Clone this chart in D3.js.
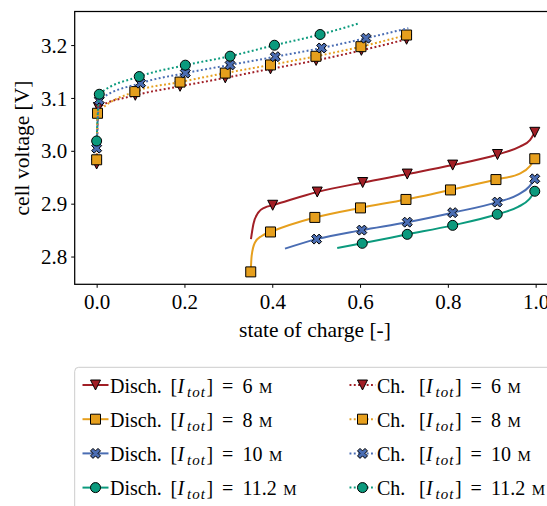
<!DOCTYPE html>
<html>
<head>
<meta charset="utf-8">
<script src="https://cdn.jsdelivr.net/npm/d3@7"></script>
<style>
  body { margin: 0; background: #fff; }
  text { font-family: "Liberation Serif", "DejaVu Serif", serif; fill: #000; white-space: pre; }
</style>
</head>
<body>
<div id="chart"></div>
<script>
const socTicks = [0.0, 0.2, 0.4, 0.6, 0.8, 1.0];
const voltTicks = [2.8, 2.9, 3.0, 3.1, 3.2];
const currents = ["6", "8", "10", "11.2"];
const colors = ["#a11f26", "#e69f1d", "#4a6db3", "#0b9a7d"];
const shapes = ["tri", "square", "x", "circle"];

// discharge, [soc, voltage] at the markers and extra points along the curve
const dis6Marks = [[0.401, 2.897], [0.5025, 2.922], [0.606, 2.94], [0.7075, 2.956], [0.811, 2.973], [0.913, 2.993], [0.998, 3.035]];
const dis6Extra = [[0.3515, 2.833], [0.357, 2.861], [0.368, 2.883], [0.383, 2.8927], [0.964, 3.008], [0.987, 3.02]];
const dis8Marks = [[0.351, 2.771], [0.396, 2.8465], [0.497, 2.874], [0.601, 2.892], [0.7046, 2.908], [0.806, 2.926], [0.9096, 2.9456], [0.998, 2.985]];
const dis8Extra = [[0.353, 2.801], [0.3606, 2.8265], [0.376, 2.839], [0.964, 2.957], [0.987, 2.971]];
const dis10Marks = [[0.501, 2.833], [0.604, 2.85], [0.7075, 2.865], [0.811, 2.883], [0.9125, 2.903], [0.998, 2.947]];
const dis10Extra = [[0.429, 2.815], [0.96, 2.917], [0.985, 2.932]];
const dis11Marks = [[0.605, 2.825], [0.7075, 2.842], [0.811, 2.859], [0.9125, 2.88], [0.998, 2.9235]];
const dis11Extra = [[0.548, 2.816], [0.96, 2.894], [0.985, 2.908]];

// charge
const ch6Marks = [[0, 2.975], [0.004, 3.082], [0.088, 3.105], [0.19, 3.122], [0.293, 3.138], [0.396, 3.155], [0.5, 3.171], [0.603, 3.19], [0.706, 3.211]];
const ch6Extra = [];
const ch8Marks = [[0, 2.983], [0.002, 3.071], [0.087, 3.112], [0.19, 3.13], [0.293, 3.147], [0.396, 3.1624], [0.4995, 3.1788], [0.602, 3.197], [0.706, 3.219]];
const ch8Extra = [];
const ch10Marks = [[0, 3.005], [0.006, 3.0956], [0.1, 3.128], [0.202, 3.147], [0.304, 3.1624], [0.407, 3.178], [0.5125, 3.1945], [0.6135, 3.213]];
const ch10Extra = [[0.71, 3.232]];
const ch11Marks = [[0, 3.0186], [0.006, 3.107], [0.097, 3.1405], [0.202, 3.162], [0.304, 3.179], [0.405, 3.1997], [0.509, 3.22]];
const ch11Extra = [[0.5975, 3.241]];

const disMarks = [dis6Marks, dis8Marks, dis10Marks, dis11Marks];
const disExtra = [dis6Extra, dis8Extra, dis10Extra, dis11Extra];
const chMarks = [ch6Marks, ch8Marks, ch10Marks, ch11Marks];
const chExtra = [ch6Extra, ch8Extra, ch10Extra, ch11Extra];

const W = 547, H = 506;
const ms = 10;
const dots = "1.9,2.4";

const svg = d3.select("#chart").append("svg")
    .attr("width", W)
    .attr("height", H)
    .style("display", "block");

svg.append("rect").attr("width", W).attr("height", H).attr("fill", "#fff");

const x = d3.scaleLinear().domain([-0.05, 1.05]).range([74.7, 557.6]);
const y = d3.scaleLinear().domain([2.7475, 3.2635]).range([284.3, 11.5]);

const line = d3.line()
    .x(function (d) { return x(d[0]); })
    .y(function (d) { return y(d[1]); })
    .curve(d3.curveMonotoneX);

// marker shapes, close to matplotlib's v, s, X, o
function markerPath(shape) {
    const s = ms / 2;
    if (shape === "tri") return `M${-s},${-s}L${s},${-s}L0,${s}Z`;
    if (shape === "square") return `M${-s},${-s}H${s}V${s}H${-s}Z`;
    if (shape === "x") {
        const p = [[-1, -2], [0, -1], [1, -2], [2, -1], [1, 0], [2, 1], [1, 2], [0, 1], [-1, 2], [-2, 1], [-1, 0], [-2, -1]];
        return "M" + p.map(function (q) { return (q[0] * ms / 4) + "," + (q[1] * ms / 4); }).join("L") + "Z";
    }
    return d3.arc()({ innerRadius: 0, outerRadius: s, startAngle: 0, endAngle: 2 * Math.PI });
}

function drawSeries(g, marks, extra, i, dotted) {
    const pts = marks.concat(extra).sort(function (a, b) { return a[0] - b[0]; });
    g.append("path")
        .datum(pts)
        .attr("d", line)
        .attr("fill", "none")
        .attr("stroke", colors[i])
        .attr("stroke-width", 2)
        .attr("stroke-dasharray", dotted ? dots : null);
    g.selectAll("path.mk")
        .data(marks)
        .enter().append("path")
        .attr("class", "mk")
        .attr("d", markerPath(shapes[i]))
        .attr("transform", function (d) { return `translate(${x(d[0])},${y(d[1])})`; })
        .attr("fill", colors[i])
        .attr("stroke", "#000")
        .attr("stroke-width", 1);
}

const plot = svg.append("g");
disMarks.forEach(function (m, i) { drawSeries(plot.append("g"), m, disExtra[i], i, false); });
chMarks.forEach(function (m, i) { drawSeries(plot.append("g"), m, chExtra[i], i, true); });

// axes
const xAxis = svg.append("g")
    .attr("transform", `translate(0,${y.range()[0]})`)
    .call(d3.axisBottom(x).tickValues(socTicks).tickSize(3.5).tickFormat(d3.format(".1f")));
const yAxis = svg.append("g")
    .attr("transform", `translate(${x.range()[0]},0)`)
    .call(d3.axisLeft(y).tickValues(voltTicks).tickSize(3.5).tickFormat(d3.format(".1f")));

[xAxis, yAxis].forEach(function (a) {
    a.attr("font-family", null).attr("font-size", null);
    a.select(".domain").remove();
    a.selectAll(".tick line").attr("stroke", "#000").attr("stroke-width", 1);
    a.selectAll(".tick text").style("font-size", "21px");
});
xAxis.selectAll(".tick text").attr("y", 25).attr("dy", null);
yAxis.selectAll(".tick text").attr("x", -7.5).attr("dy", "0.34em");

// spines (right one falls outside the picture)
svg.append("rect")
    .attr("x", x.range()[0])
    .attr("y", y.range()[1])
    .attr("width", x.range()[1] - x.range()[0])
    .attr("height", y.range()[0] - y.range()[1])
    .attr("fill", "none")
    .attr("stroke", "#000")
    .attr("stroke-width", 1.25);

svg.append("text")
    .attr("x", 315)
    .attr("y", 337.3)
    .attr("text-anchor", "middle")
    .style("font-size", "21.5px")
    .text("state of charge [-]");

svg.append("text")
    .attr("transform", "translate(29,148) rotate(-90)")
    .attr("text-anchor", "middle")
    .style("font-size", "21.5px")
    .text("cell voltage [V]");

// legend
const legend = svg.append("g");
legend.append("rect")
    .attr("x", 74.7)
    .attr("y", 367.3)
    .attr("width", 520)
    .attr("height", 200)
    .attr("rx", 4)
    .attr("fill", "#fff")
    .attr("stroke", "#cccccc")
    .attr("stroke-width", 1);

function legendEntry(x0, yc, i, label, gap, dotted) {
    const g = legend.append("g");
    g.append("line")
        .attr("x1", x0).attr("x2", x0 + 26)
        .attr("y1", yc).attr("y2", yc)
        .attr("stroke", colors[i])
        .attr("stroke-width", 2)
        .attr("stroke-dasharray", dotted ? dots : null);
    g.append("path")
        .attr("d", markerPath(shapes[i]))
        .attr("transform", `translate(${x0 + 13},${yc})`)
        .attr("fill", colors[i])
        .attr("stroke", "#000")
        .attr("stroke-width", 1);
    const tx = x0 + 27.5;
    const b = tx + gap; // where the bracket starts
    const t = g.append("text")
        .attr("x", tx)
        .attr("y", yc + 7.5)
        .style("font-size", "20px");
    t.append("tspan").text(label);
    t.append("tspan").attr("x", b).text("[");
    t.append("tspan").attr("x", b + 7).style("font-style", "italic").text("I");
    t.append("tspan").attr("x", b + 16.5).attr("dy", 4)
        .style("font-style", "italic").style("font-size", "15px").style("letter-spacing", "1px").text("tot");
    t.append("tspan").attr("x", b + 36).attr("dy", -4).text("]");
    t.append("tspan").attr("x", b + 51.5).text("=");
    t.append("tspan").attr("x", b + 72).text(currents[i]);
    t.append("tspan").attr("dx", 6.5).style("font-variant", "small-caps").style("font-size", "22px").text("m");
}

currents.forEach(function (c, i) {
    const yc = 385 + i * 34.2;
    legendEntry(82.5, yc, i, "Disch.", 60.5, false);
    legendEntry(349.5, yc, i, "Ch.", 42, true);
});
</script>
</body>
</html>
